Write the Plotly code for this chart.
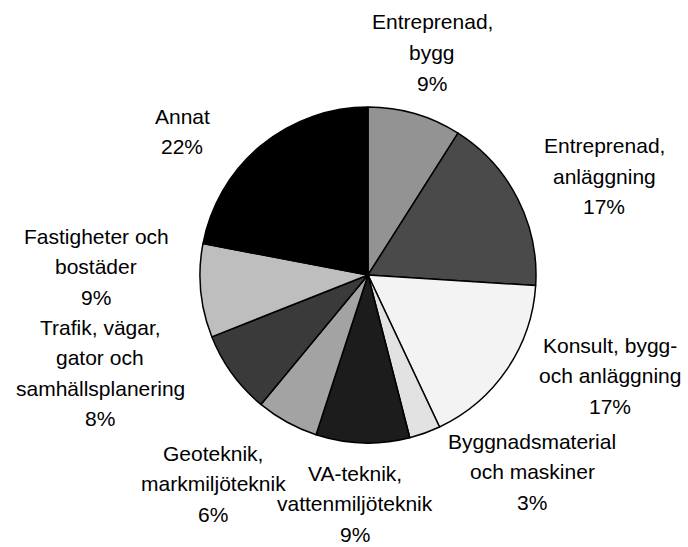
import plotly.graph_objects as go

categories = [
    "Entreprenad,<br>bygg",
    "Entreprenad,<br>anläggning",
    "Konsult, bygg-<br>och anläggning",
    "Byggnadsmaterial<br>och maskiner",
    "VA-teknik,<br>vattenmiljöteknik",
    "Geoteknik,<br>markmiljöteknik",
    "Trafik, vägar,<br>gator och<br>samhällsplanering",
    "Fastigheter och<br>bostäder",
    "Annat",
]
values = [9, 17, 17, 3, 9, 6, 8, 9, 22]

colors = ["#939393", "#4a4a4a", "#f3f3f3", "#e2e2e2", "#1c1c1c",
          "#a3a3a3", "#3a3a3a", "#bebebe", "#000000"]

# label anchor positions in page pixels (centre x, first line centre y)
label_pos = [(432, 22), (604, 146), (610, 345), (532, 441), (355, 473),
             (213, 453), (100, 327), (96, 236), (182, 116)]
LINE = 30.5
W, H = 688, 547
cx, cy, r = 368, 275, 168

fig = go.Figure(go.Pie(
    labels=categories,
    values=values,
    sort=False,
    direction="clockwise",
    rotation=0,
    textinfo="none",
    marker=dict(colors=colors, line=dict(color="black", width=1.5)),
    domain=dict(x=[(cx - r) / W, (cx + r) / W],
                y=[(H - cy - r) / H, (H - cy + r) / H]),
    showlegend=False,
))

total = sum(values)
annotations = []
for cat, v, (px, py) in zip(categories, values, label_pos):
    lines = cat.split("<br>") + [f"{round(100 * v / total)}%"]
    for i, t in enumerate(lines):
        annotations.append(dict(
            x=px / W, y=1 - (py + i * LINE) / H,
            xref="paper", yref="paper",
            text=t, showarrow=False, xanchor="center", yanchor="middle",
            font=dict(family="Liberation Sans, Arial, sans-serif", size=21, color="black"),
        ))

fig.update_layout(
    width=W, height=H,
    margin=dict(l=0, r=0, t=0, b=0),
    paper_bgcolor="white", plot_bgcolor="white",
    annotations=annotations,
)
fig.write_html(
    "out.html",
    config={"displayModeBar": False},
    post_script="document.body.style.margin='0';document.body.style.overflow='hidden';",
)
